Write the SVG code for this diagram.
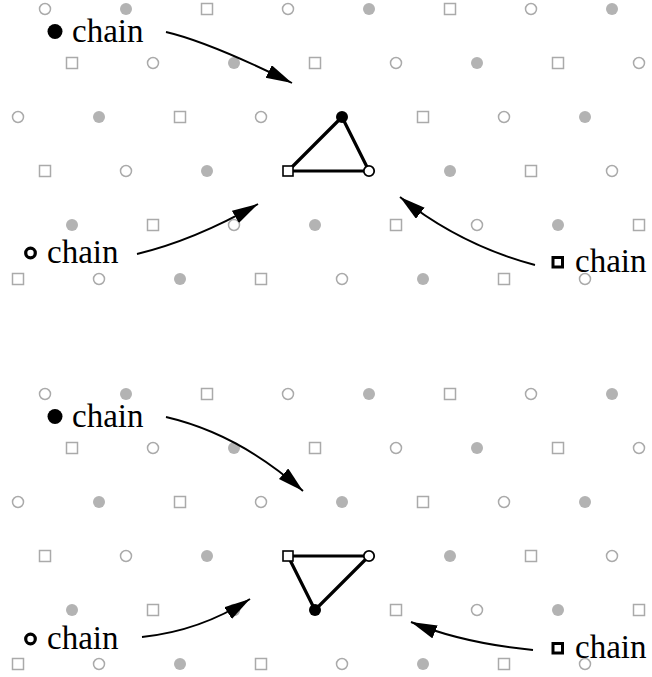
<svg xmlns="http://www.w3.org/2000/svg" width="652" height="677" viewBox="0 0 652 677">
<style>
.go{fill:none;stroke:#aaaaaa;stroke-width:1.5}
.gf{fill:#b3b3b3;stroke:none}
.gs{fill:none;stroke:#aaaaaa;stroke-width:1.5}
.edge{stroke:#000;stroke-width:3.2;fill:none;stroke-linecap:round}
.vf{fill:#000}
.vo{fill:#fff;stroke:#000;stroke-width:1.8}
.vs{fill:#fff;stroke:#000;stroke-width:1.6}
.arrow{fill:none;stroke:#000;stroke-width:1.9}
.lbl{font-family:"Liberation Serif","Times New Roman",serif;font-size:33px;fill:#000}
.lo{fill:none;stroke:#000;stroke-width:3.2}
.ls{fill:none;stroke:#000;stroke-width:3}
</style>
<defs>
<circle id="o" r="5.5" class="go"/>
<circle id="f" r="6" class="gf"/>
<rect id="s" x="-5.5" y="-5.5" width="11" height="11" class="gs"/>
<marker id="ah" markerUnits="userSpaceOnUse" markerWidth="28" markerHeight="16" refX="26" refY="7" orient="auto">
<path d="M0,0 L26,7 L0,14 z" fill="#000"/>
</marker>
</defs>

<g id="lattice-top">
<use href="#o" x="45" y="9"/><use href="#f" x="126" y="9"/><use href="#s" x="207" y="9"/><use href="#o" x="288" y="9"/><use href="#f" x="369" y="9"/><use href="#s" x="450" y="9"/><use href="#o" x="531" y="9"/><use href="#f" x="612" y="9"/>
<use href="#s" x="72" y="63"/><use href="#o" x="153" y="63"/><use href="#f" x="234" y="63"/><use href="#s" x="315" y="63"/><use href="#o" x="396" y="63"/><use href="#f" x="477" y="63"/><use href="#s" x="558" y="63"/><use href="#o" x="639" y="63"/>
<use href="#o" x="18" y="117"/><use href="#f" x="99" y="117"/><use href="#s" x="180" y="117"/><use href="#o" x="261" y="117"/><use href="#s" x="423" y="117"/><use href="#o" x="504" y="117"/><use href="#f" x="585" y="117"/>
<use href="#s" x="45" y="171"/><use href="#o" x="126" y="171"/><use href="#f" x="207" y="171"/><use href="#f" x="450" y="171"/><use href="#s" x="531" y="171"/><use href="#o" x="612" y="171"/>
<use href="#f" x="72" y="225"/><use href="#s" x="153" y="225"/><use href="#o" x="234" y="225"/><use href="#f" x="315" y="225"/><use href="#s" x="396" y="225"/><use href="#o" x="477" y="225"/><use href="#f" x="558" y="225"/><use href="#s" x="639" y="225"/>
<use href="#s" x="18" y="279"/><use href="#o" x="99" y="279"/><use href="#f" x="180" y="279"/><use href="#s" x="261" y="279"/><use href="#o" x="342" y="279"/><use href="#f" x="423" y="279"/><use href="#s" x="504" y="279"/><use href="#o" x="585" y="279"/>
</g>

<g id="lattice-bottom">
<use href="#o" x="45" y="394"/><use href="#f" x="126" y="394"/><use href="#s" x="207" y="394"/><use href="#o" x="288" y="394"/><use href="#f" x="369" y="394"/><use href="#s" x="450" y="394"/><use href="#o" x="531" y="394"/><use href="#f" x="612" y="394"/>
<use href="#s" x="72" y="448"/><use href="#o" x="153" y="448"/><use href="#f" x="234" y="448"/><use href="#s" x="315" y="448"/><use href="#o" x="396" y="448"/><use href="#f" x="477" y="448"/><use href="#s" x="558" y="448"/><use href="#o" x="639" y="448"/>
<use href="#o" x="18" y="502"/><use href="#f" x="99" y="502"/><use href="#s" x="180" y="502"/><use href="#o" x="261" y="502"/><use href="#f" x="342" y="502"/><use href="#s" x="423" y="502"/><use href="#o" x="504" y="502"/><use href="#f" x="585" y="502"/>
<use href="#s" x="45" y="556"/><use href="#o" x="126" y="556"/><use href="#f" x="207" y="556"/><use href="#f" x="450" y="556"/><use href="#s" x="531" y="556"/><use href="#o" x="612" y="556"/>
<use href="#f" x="72" y="610"/><use href="#s" x="153" y="610"/><use href="#o" x="234" y="610"/><use href="#s" x="396" y="610"/><use href="#o" x="477" y="610"/><use href="#f" x="558" y="610"/><use href="#s" x="639" y="610"/>
<use href="#s" x="18" y="664"/><use href="#o" x="99" y="664"/><use href="#f" x="180" y="664"/><use href="#s" x="261" y="664"/><use href="#o" x="342" y="664"/><use href="#f" x="423" y="664"/><use href="#s" x="504" y="664"/><use href="#o" x="585" y="664"/>
</g>

<g id="triangle-top">
<path class="edge" d="M342,117 L288,171 L369,171 Z"/>
<circle class="vf" cx="342" cy="117" r="6"/>
<rect class="vs" x="283" y="166" width="10" height="10"/>
<circle class="vo" cx="369" cy="171" r="5.2"/>
</g>

<g id="triangle-bottom">
<path class="edge" d="M288,556 L369,556 L315,610 Z"/>
<circle class="vf" cx="315" cy="610" r="6"/>
<rect class="vs" x="283" y="551" width="10" height="10"/>
<circle class="vo" cx="369" cy="556" r="5.2"/>
</g>

<g id="label-filled-top">
<circle cx="55" cy="31.5" r="7.5" fill="#000"/>
<text class="lbl" x="72" y="42">chain</text>
</g>
<g id="label-open-top">
<circle class="lo" cx="30.5" cy="253" r="4.8"/>
<text class="lbl" x="47" y="263">chain</text>
</g>
<g id="label-square-top">
<rect class="ls" x="553" y="257.5" width="9.5" height="9.5"/>
<text class="lbl" x="575" y="272">chain</text>
</g>

<g id="label-filled-bottom">
<circle cx="55" cy="416.5" r="7.5" fill="#000"/>
<text class="lbl" x="72" y="427">chain</text>
</g>
<g id="label-open-bottom">
<circle class="lo" cx="30.5" cy="639" r="4.8"/>
<text class="lbl" x="47" y="649">chain</text>
</g>
<g id="label-square-bottom">
<rect class="ls" x="553" y="643.5" width="9.5" height="9.5"/>
<text class="lbl" x="575" y="658">chain</text>
</g>

<g id="connectors">
<path class="arrow" marker-end="url(#ah)" d="M166,32 Q209,42 292,83"/>
<path class="arrow" marker-end="url(#ah)" d="M137,254 Q195,240 258,204"/>
<path class="arrow" marker-end="url(#ah)" d="M535,265 Q460,245 400,197"/>
<path class="arrow" marker-end="url(#ah)" d="M166,417 Q239,434 303,491"/>
<path class="arrow" marker-end="url(#ah)" d="M142,637 Q200,631 250,599"/>
<path class="arrow" marker-end="url(#ah)" d="M533,650 Q462,643 411,622"/>
</g>
</svg>
